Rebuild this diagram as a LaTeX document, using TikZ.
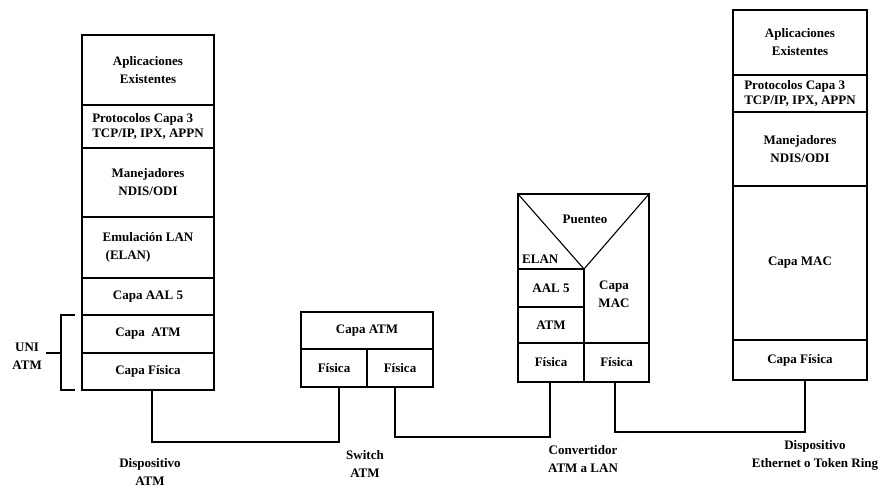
\documentclass[tikz,border=0pt]{standalone}
\usepackage{fontspec}
\setmainfont{Liberation Serif}
\newcommand\cellbox[7][]{%
  \node[box, minimum width={#5-#3}, minimum height={#6-#4}, #1] (#2) at ({(#3+#5)/2},{(#4+#6)/2}) {#7};}
\begin{document}
\begin{tikzpicture}[x=1pt,y=-1pt,
  box/.style={draw, line width=1.1pt, inner sep=0pt, outer sep=0pt, align=center,
    font=\fontsize{13}{18}\selectfont\bfseries},
  tight/.style={font=\fontsize{13}{15}\selectfont\bfseries},
  txt/.style={inner sep=0pt, align=center, font=\fontsize{13}{18}\selectfont\bfseries},
  wire/.style={line width=1.1pt}]
\useasboundingbox (0,0) rectangle (886,492);
% left stack: Dispositivo ATM
\cellbox{la}{82}{35}{214}{105}{Aplicaciones\\Existentes}
\cellbox[align=left, tight]{lp}{82}{105}{214}{148}{Protocolos Capa 3\\TCP/IP, IPX, APPN}
\cellbox{lm}{82}{148}{214}{217}{Manejadores\\NDIS/ODI}
\cellbox[align=left]{le}{82}{217}{214}{278}{Emulación LAN\\\hspace*{3pt}(ELAN)}
\cellbox{l5}{82}{278}{214}{315}{Capa AAL 5}
\cellbox{lt}{82}{315}{214}{353}{Capa \ ATM}
\cellbox{lf}{82}{353}{214}{390}{Capa Física}
% UNI ATM bracket
\draw[wire] ([xshift=-7pt]lt.north west) -- ++(-14,0) coordinate (bt) |- ([xshift=-7pt]lf.south west);
\draw[wire] (bt |- lf.north west) -- ++(-15,0) coordinate (bm);
\node[txt, anchor=east] (uni) at ([xshift=-4pt,yshift=-3pt]bm) {UNI\\ATM};
% switch
\cellbox{sa}{301}{312}{433}{349}{Capa ATM}
\cellbox{sfl}{301}{349}{367}{387}{Física}
\cellbox{sfr}{367}{349}{433}{387}{Física}
% converter
\node[box, minimum width=131, minimum height=188] (cv) at (583.5,288) {};
\coordinate (apex) at (584,269);
\draw[wire] (cv.north west) -- (apex) -- (cv.north east);
\cellbox{ca}{518}{269}{584}{307}{AAL 5}
\cellbox{ct}{518}{307}{584}{343}{ATM}
\cellbox{cfl}{518}{343}{584}{382}{Física}
\cellbox{cfr}{584}{343}{649}{382}{Física}
\draw[wire] (apex) -- (cfr.north west);
\node[txt] (pu) at (585,219) {Puenteo};
\node[txt, anchor=west] (el) at (522,259) {ELAN};
\node[txt] (cm) at (614,294) {Capa\\MAC};
% right stack
\cellbox{ra}{733}{10}{867}{75}{Aplicaciones\\Existentes}
\cellbox[align=left, tight]{rp}{733}{75}{867}{112}{Protocolos Capa 3\\TCP/IP, IPX, APPN}
\cellbox{rm}{733}{112}{867}{186}{Manejadores\\NDIS/ODI}
\cellbox{rc}{733}{186}{867}{340}{Capa MAC}
\cellbox{rf}{733}{340}{867}{380}{Capa Física}
% connectors
\coordinate (k1) at (152,442);
\coordinate (k2) at (339,442);
\draw[wire] (lf.south -| k1) -- (k1) -- (k2) -- (sfl.south -| k2);
\coordinate (k3) at (395,437);
\coordinate (k4) at (550,437);
\draw[wire] (sfr.south -| k3) -- (k3) -- (k4) -- (cfl.south -| k4);
\coordinate (k5) at (615,432);
\coordinate (k6) at (805,432);
\draw[wire] (cfr.south -| k5) -- (k5) -- (k6) -- (rf.south -| k6);
% labels
\node[txt] (d1) at (150,472) {Dispositivo\\ATM};
\node[txt] (d2) at (365,464) {Switch\\ATM};
\node[txt] (d3) at (583,459) {Convertidor\\ATM a LAN};
\node[txt] (d4) at (815,455) {Dispositivo\\Ethernet o Token Ring};
\end{tikzpicture}
\end{document}
